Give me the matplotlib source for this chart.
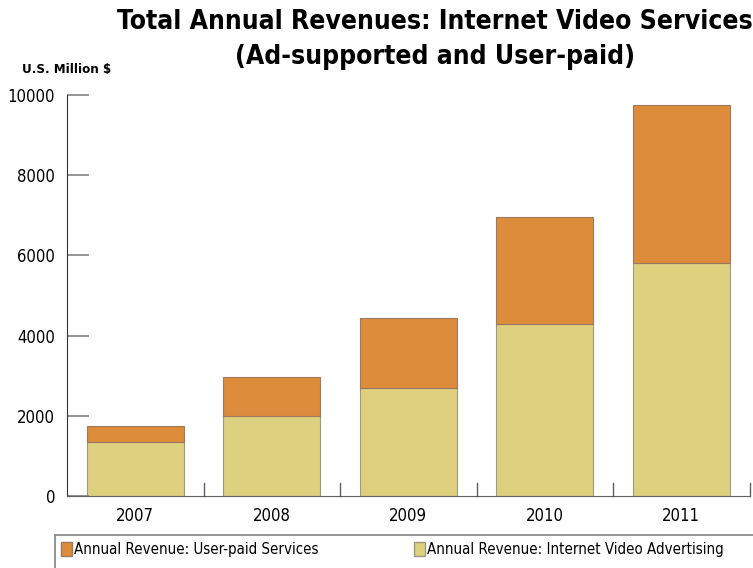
import numpy as np
import matplotlib.pyplot as plt
from matplotlib.patches import Patch, Rectangle

years = ['2007', '2008', '2009', '2010', '2011']
advertising = [1350, 2000, 2700, 4300, 5800]
user_paid = [400, 970, 1740, 2650, 3950]
yticks = [0, 2000, 4000, 6000, 8000, 10000]

orange = '#DD8C3C'
yellow = '#DDD07E'
plt.rcParams['font.family'] = ['DejaVu Sans']
plt.rcParams['font.stretch'] = 'condensed'

fig = plt.figure(figsize=(7.53, 5.68), dpi=100)
ax = fig.add_axes([67/753, 72/568, 682.5/753, 401/568])

x = np.arange(len(years))
ax.bar(x, advertising, width=0.71, color=yellow, edgecolor='#9a9a80', linewidth=0.8)
ax.bar(x, user_paid, bottom=advertising, width=0.71, color=orange,
       edgecolor='#9a7a60', linewidth=0.8)

ax.set_xlim(-0.5, len(years) - 0.5)
ax.set_ylim(0, 10000)
ax.set_yticks(yticks)
ax.set_yticklabels([str(v) for v in yticks], fontsize=12)
ax.set_xticks(x)
ax.set_xticklabels(years, fontsize=12)
ax.tick_params(axis='x', length=0, pad=8)
ax.tick_params(axis='y', direction='in', length=16, width=1.2, color='#808080', pad=8.5)
# ticks between the categories
for b in np.arange(0.5, len(years), 1.0):
    ax.plot([b, b], [0, 330], color='#606060', lw=1, clip_on=False)
ax.spines['top'].set_visible(False)
ax.spines['right'].set_visible(False)
ax.spines['left'].set_color('#333333')
ax.spines['bottom'].set_color('#606060')

fig.text(435/753, 1 - 22/568, 'Total Annual Revenues: Internet Video Services',
         ha='center', va='center', fontsize=19, fontweight='bold')
fig.text(435/753, 1 - 57/568, '(Ad-supported and User-paid)',
         ha='center', va='center', fontsize=19, fontweight='bold')
fig.text(22/753, 1 - 70/568, 'U.S. Million $', ha='left', va='center',
         fontsize=9.5, fontweight='bold')

# legend box runs off the right and bottom edges
fig.patches.append(Rectangle((55/753, -0.02), 710/753, 0.02 + 1 - 535/568,
                             transform=fig.transFigure, facecolor='none',
                             edgecolor='#808080', linewidth=1.2))
handles = [Patch(facecolor=orange, edgecolor='#9a7a60'),
           Patch(facecolor=yellow, edgecolor='#9a9a80')]
labels = ['Annual Revenue: User-paid Services',
          'Annual Revenue: Internet Video Advertising']
leg = fig.legend(handles, labels, ncol=2, loc='upper left',
                 bbox_to_anchor=(55/753, 1 - 536/568), fontsize=10.8,
                 frameon=False, handlelength=0.75, handleheight=1.1,
                 handletextpad=0.15, columnspacing=6.3, borderpad=0.4,
                 borderaxespad=0)

fig.savefig('out.png', dpi=100)
